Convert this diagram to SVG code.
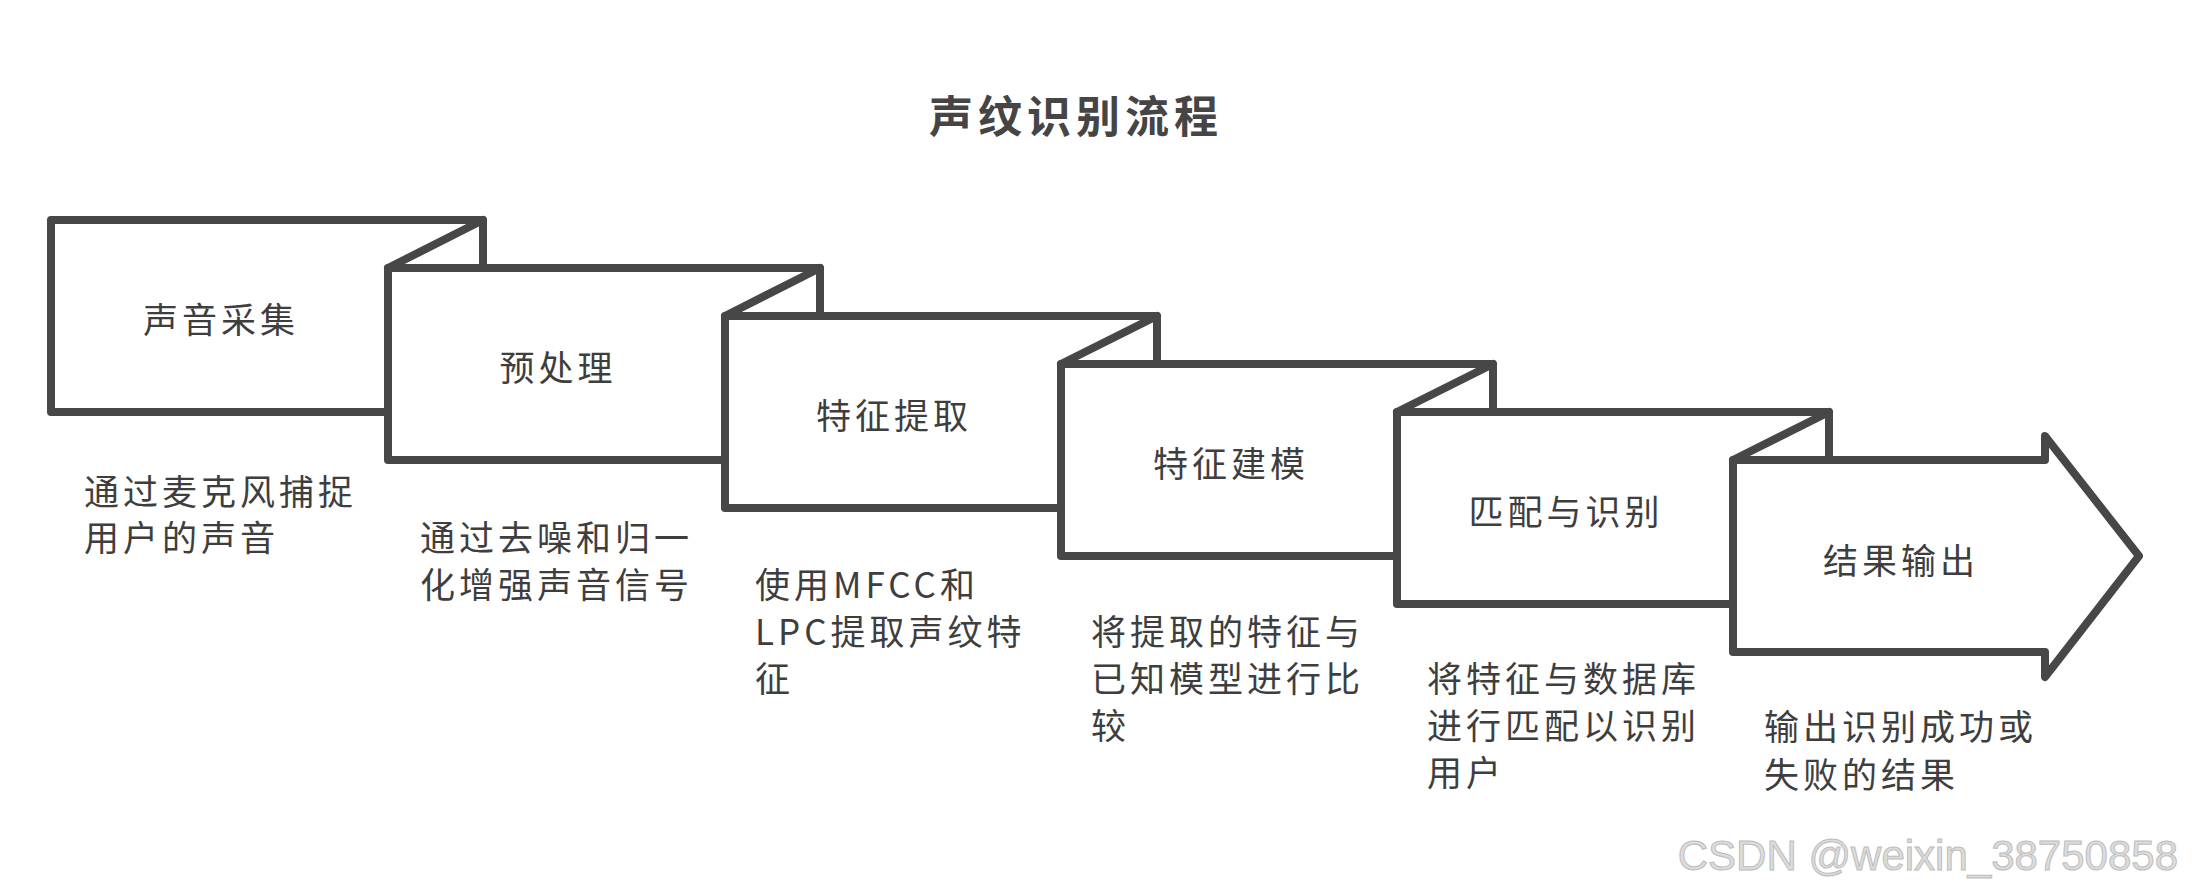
<svg xmlns="http://www.w3.org/2000/svg" width="2192" height="896" viewBox="0 0 2192 896">
<style>
.bx{fill:#ffffff;stroke:#474747;stroke-width:8;stroke-linejoin:round;stroke-linecap:round}
.fold{fill:none;stroke:#474747;stroke-width:8;stroke-linecap:round}
.lbl{font-family:"Noto Sans CJK SC","Noto Sans CJK JP",sans-serif;font-size:35px;letter-spacing:4px;fill:#3e3e3e;text-anchor:middle}
.desc{font-family:"Noto Sans CJK SC","Noto Sans CJK JP",sans-serif;font-size:35px;letter-spacing:4px;fill:#3e3e3e}
.title{font-family:"Noto Sans CJK SC","Noto Sans CJK JP",sans-serif;font-size:44px;font-weight:700;letter-spacing:5px;fill:#454545;text-anchor:middle}
.wm{font-family:"Liberation Sans",Arial,sans-serif;font-size:42px;fill:#dcdcdc;stroke:#bdbdbd;stroke-width:1;text-anchor:end}
</style>
<rect width="2192" height="896" fill="#ffffff"/>
<text class="title" x="1076" y="133">声纹识别流程</text>

<g id="node-1">
<rect class="bx" x="51" y="220" width="432" height="192"/>
<line class="fold" x1="483" y1="220" x2="388" y2="268"/>
<text class="lbl" x="221" y="333">声音采集</text>
</g>
<g id="node-2">
<rect class="bx" x="388" y="268" width="432" height="192"/>
<line class="fold" x1="820" y1="268" x2="725" y2="316"/>
<text class="lbl" x="558" y="381">预处理</text>
</g>
<g id="node-3">
<rect class="bx" x="725" y="316" width="432" height="192"/>
<line class="fold" x1="1157" y1="316" x2="1061" y2="364"/>
<text class="lbl" x="894" y="429">特征提取</text>
</g>
<g id="node-4">
<rect class="bx" x="1061" y="364" width="432" height="192"/>
<line class="fold" x1="1493" y1="364" x2="1397" y2="412"/>
<text class="lbl" x="1231" y="477">特征建模</text>
</g>
<g id="node-5">
<rect class="bx" x="1397" y="412" width="432" height="192"/>
<line class="fold" x1="1829" y1="412" x2="1733" y2="460"/>
<text class="lbl" x="1566" y="525">匹配与识别</text>
</g>
<g id="node-6">
<polygon class="bx" points="1733,460 2045,460 2045,436 2139,556 2045,677 2045,652 1733,652"/>
<text class="lbl" x="1901" y="574">结果输出</text>
</g>

<g id="connectors"></g>

<g id="descriptions">
<text class="desc" x="84" y="505">通过麦克风捕捉<tspan x="84" dy="46">用户的声音</tspan></text>
<text class="desc" x="420" y="551">通过去噪和归一<tspan x="420" dy="47">化增强声音信号</tspan></text>
<text class="desc" x="755" y="598">使用MFCC和<tspan x="755" dy="47">LPC提取声纹特</tspan><tspan x="755" dy="47">征</tspan></text>
<text class="desc" x="1091" y="645">将提取的特征与<tspan x="1091" dy="47">已知模型进行比</tspan><tspan x="1091" dy="47">较</tspan></text>
<text class="desc" x="1427" y="692">将特征与数据库<tspan x="1427" dy="47">进行匹配以识别</tspan><tspan x="1427" dy="47">用户</tspan></text>
<text class="desc" x="1764" y="740">输出识别成功或<tspan x="1764" dy="48">失败的结果</tspan></text>
</g>

<text class="wm" x="2178" y="870">CSDN @weixin_38750858</text>
</svg>
